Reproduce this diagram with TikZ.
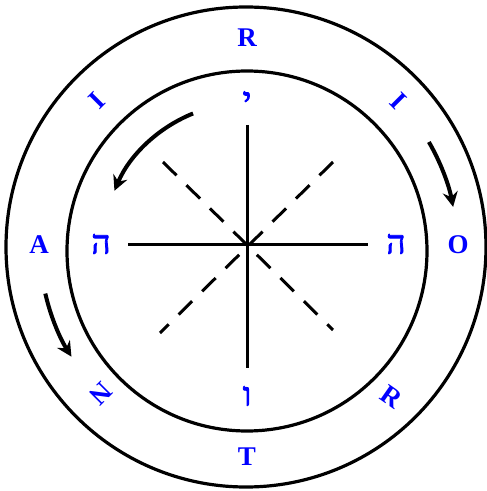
\documentclass[tikz,border=0pt]{standalone}
\usepackage{fontspec}
\setmainfont{Liberation Serif}
\newfontfamily\hebfont[Script=Hebrew,FakeBold=2.5]{Liberation Serif}
\usetikzlibrary{arrows.meta}
\definecolor{lblue}{RGB}{0,0,255}
\tikzset{
  ring/.style={draw=black, line width=3.2pt},
  spoke/.style={draw=black, line width=3pt},
  dspoke/.style={draw=black, line width=3pt, dash pattern=on 19pt off 14pt},
  turn/.style={draw=black, line width=4pt, -{Stealth[length=15pt,width=15pt,inset=5pt]}},
  lat/.style={text=lblue, inner sep=0pt, font=\fontsize{27}{32}\selectfont\bfseries},
  heb/.style={text=lblue, inner sep=0pt, font=\fontsize{33}{40}\selectfont\hebfont}
}
\begin{document}
\begin{tikzpicture}[x=1pt,y=1pt]
\useasboundingbox (0,0) rectangle (487,491);
% circles
\coordinate (oc) at (246,244);
\coordinate (ic) at (247,240);
\coordinate (ac) at (247,244);
\draw[ring] (oc) circle[radius=240];
\draw[ring] (ic) circle[radius=180];
% cross
\coordinate (vt) at (247,366);
\coordinate (vb) at (247,123);
\coordinate (hl) at (128,246);
\coordinate (hr) at (368,246);
\draw[spoke] (vt) -- (vb);
\draw[spoke] (hl) -- (hr);
\coordinate (d1a) at (163,329);
\coordinate (d1b) at (333,161);
\coordinate (d2a) at (333,329);
\coordinate (d2b) at (160,158);
\draw[dspoke] (d1a) -- (d1b);
\draw[dspoke] (d2a) -- (d2b);
% arrows
\draw[turn] ([shift={(112:144)}]ac) arc[start angle=112, end angle=157, radius=144];
\draw[turn] ([shift={(30:210)}]ac) arc[start angle=30, end angle=11, radius=210];
\draw[turn] ([shift={(193:207)}]ac) arc[start angle=193, end angle=212, radius=207];
% outer letters
\node[lat] (lR) at (247,453) {R};
\node[lat] (lT) at (247,34) {T};
\node[lat] (lA) at (39,246) {A};
\node[lat] (lO) at (458,246) {O};
\node[lat, rotate=45] (lI1) at (97,390) {I};
\node[lat, rotate=-45] (lI2) at (398,390) {I};
\node[lat, rotate=-35] (lR2) at (392,94) {R};
\node[lat, rotate=-135] (lN) at (101,97) {N};
% hebrew letters
\node[heb] (hy) at (247,390) {י};
\node[heb] (hv) at (247,95) {ו};
\node[heb] (hh1) at (101,247) {ה};
\node[heb] (hh2) at (396,247) {ה};
\end{tikzpicture}
\end{document}
